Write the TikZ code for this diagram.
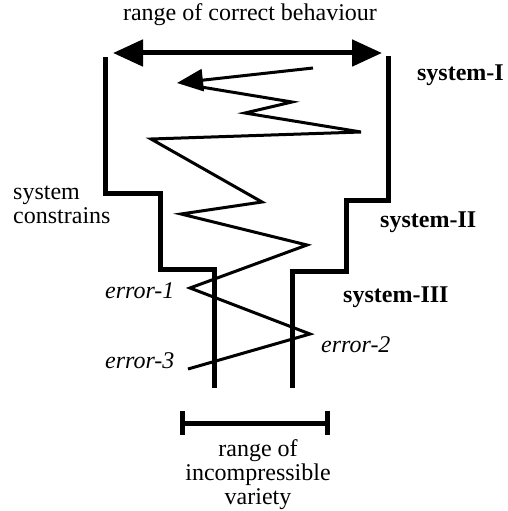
\documentclass[tikz,border=0pt]{standalone}
\usepackage{fontspec}
\setmainfont{Liberation Serif}
\usetikzlibrary{arrows.meta}
\begin{document}
\begin{tikzpicture}[x=1pt,y=-1pt,
  wall/.style={line width=5pt,line cap=butt,line join=miter},
  zig/.style={line width=3pt,line join=miter},
  lbl/.style={inner sep=0pt,font=\fontsize{24}{24}\selectfont},
  blbl/.style={lbl,font=\fontsize{24}{24}\selectfont\bfseries},
  ilbl/.style={lbl,font=\fontsize{24}{24}\selectfont\itshape}]
\useasboundingbox (0,0) rectangle (508,511);
% labels
\node[lbl,anchor=base] (top) at (250,21) {range of correct behaviour};
\node[blbl,anchor=base east] (s1) at (504,81) {system-I};
\node[blbl,anchor=base west] (s2) at (380,227) {system-II};
\node[blbl,anchor=base west] (s3) at (343,302) {system-III};
\node[lbl,anchor=north west,align=left] (sc) at (13,186) {system\\constrains};
\node[ilbl,anchor=base west] (e1) at (105,298) {error-1};
\node[ilbl,anchor=base west] (e2) at (321,352) {error-2};
\node[ilbl,anchor=base west] (e3) at (105,368) {error-3};
\node[lbl,anchor=north,align=center] (riv) at (258,439) {range of\\incompressible\\variety};
% coordinates
\coordinate (tl) at (113,53);
\coordinate (tr) at (382,53);
\coordinate (bl) at (182,423);
\coordinate (br) at (327,423);
% top double arrow
\draw[line width=5pt,{Triangle[length=30pt,width=26pt]}-{Triangle[length=30pt,width=26pt]}] (tl) -- (tr);
% walls
\draw[wall] (105,57) -- (105,193) -- (160,193) -- (160,269) -- (214,269) -- (214,388);
\draw[wall] (388,56) -- (388,200) -- (346,200) -- (346,271) -- (292,271) -- (292,388);
% zigzag
\coordinate (z0) at (313,68);
\coordinate (z1) at (177,83);
\draw[zig,-{Triangle[length=26pt,width=22pt]}] (z0) -- (z1);
\draw[zig] (195,86) -- (292,102) -- (245,113) -- (361,132) -- (151,139) -- (262,202) -- (181,214) -- (307,245) -- (190,288) -- (310,334) -- (188,369);
% bottom bracket
\draw[line width=5pt] (bl) -- (br);
\draw[line width=5pt] (182,411) -- (182,435);
\draw[line width=5pt] (327,411) -- (327,435);
\end{tikzpicture}
\end{document}
